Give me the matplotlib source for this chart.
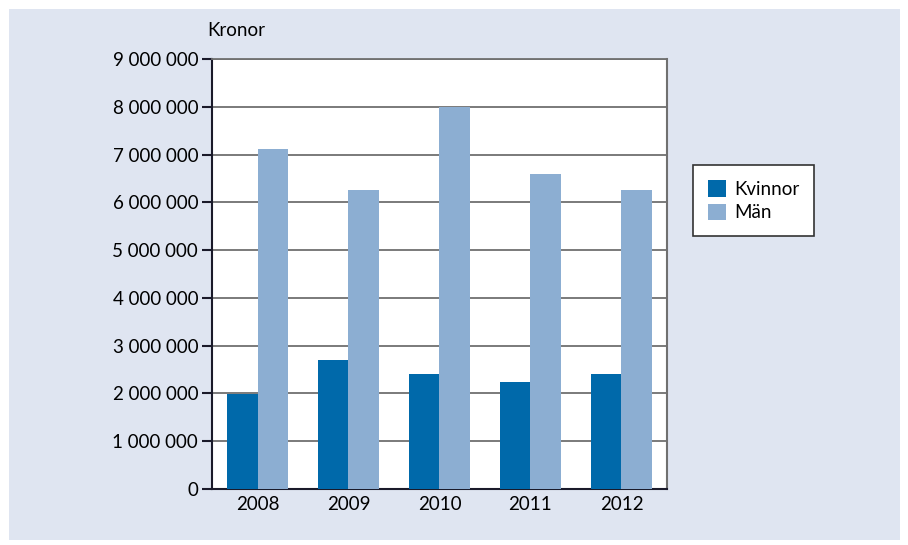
#!/usr/bin/env python3

import matplotlib.pyplot as plt
from matplotlib.patches import Rectangle
from matplotlib.ticker import FuncFormatter
import numpy as np

years = ['2008', '2009', '2010', '2011', '2012']
kvinnor = [1980000, 2690000, 2410000, 2230000, 2410000]
man = [7120000, 6260000, 8000000, 6600000, 6260000]

plt.rcParams['font.family'] = ['Lato', 'DejaVu Sans']
plt.rcParams['font.size'] = 13.5

fig = plt.figure(figsize=(9.08, 5.45), dpi=100)
fig.patch.set_facecolor('white')
# light panel behind everything
fig.patches.append(Rectangle((9/908, 5/545), 891/908, 531/545, transform=fig.transFigure,
                             facecolor='#dfe5f1', edgecolor='none', zorder=-1))

ax = fig.add_axes([0.2335, 0.1028, 0.501, 0.789])
ax.set_facecolor('white')

x = np.arange(len(years))
w = 0.335
ax.bar(x - w/2, kvinnor, w, color='#0069aa', label='Kvinnor', zorder=3)
ax.bar(x + w/2, man, w, color='#8caed2', label='Män', zorder=3)

ax.set_xlim(-0.5, len(years) - 0.5)
ax.set_ylim(0, 9000000)
ax.set_yticks(np.arange(0, 9000001, 1000000))
ax.yaxis.set_major_formatter(FuncFormatter(lambda v, p: '{:,.0f}'.format(v).replace(',', ' ')))
ax.set_xticks(x)
ax.set_xticklabels(years)

# gridlines
ax.grid(axis='y', color='#707070', linewidth=1.3, zorder=0)
ax.set_axisbelow(True)

ax.tick_params(axis='y', direction='out', length=7, width=1.5, color='#1a1a2a', pad=3)
ax.tick_params(axis='x', length=0, pad=5)

for s in ['left', 'bottom']:
    ax.spines[s].set_color('#1a1a2a')
    ax.spines[s].set_linewidth(1.5)
ax.spines['right'].set_color('#707070')
ax.spines['right'].set_linewidth(1.5)
ax.spines['top'].set_color('#707070')
ax.spines['top'].set_linewidth(1.3)

fig.text(236/908, 1 - 30/545, 'Kronor', ha='center', va='center')

leg = ax.legend(loc='center left', bbox_to_anchor=(1.036, 0.67), frameon=True, fancybox=False,
                framealpha=1, handlelength=1.0, handleheight=1.0, handletextpad=0.4,
                borderpad=0.8, labelspacing=0.3)
leg.get_frame().set_edgecolor('#333333')
leg.get_frame().set_facecolor('white')
leg.get_frame().set_linewidth(1.2)

plt.savefig('out.png', dpi=100)
